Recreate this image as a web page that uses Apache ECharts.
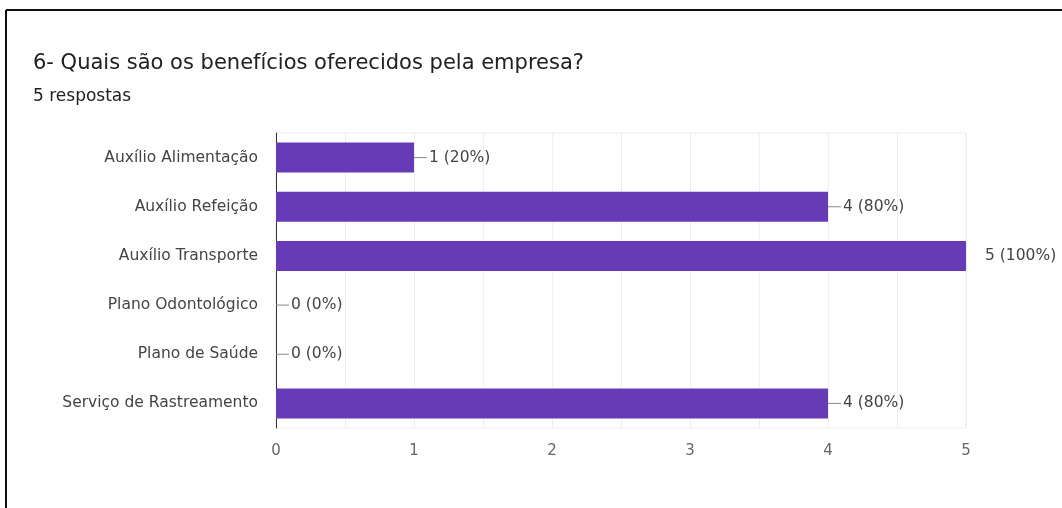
<!DOCTYPE html>
<html>
<head>
<meta charset="utf-8">
<script src="https://cdn.jsdelivr.net/npm/echarts@6/dist/echarts.min.js"></script>
<style>
  html, body { margin: 0; padding: 0; background: #fff; }
  #chart { width: 1062px; height: 508px; }
</style>
</head>
<body>
<div id="chart"></div>
<script>
// Benefit categories and number of responses for each
const categories = [
  'Auxílio Alimentação',
  'Auxílio Refeição',
  'Auxílio Transporte',
  'Plano Odontológico',
  'Plano de Saúde',
  'Serviço de Rastreamento'
];
const counts = [1, 4, 5, 0, 0, 4];
const totalResponses = 5;
const xTicks = [0, 1, 2, 3, 4, 5];

const titleText = '6- Quais são os benefícios oferecidos pela empresa?';
const subtitleText = totalResponses + ' respostas';

const textFont = '"DejaVu Sans", Arial, sans-serif';
const xMax = xTicks[xTicks.length - 1];

const barData = counts.map(function (v) {
  const pct = Math.round(v / totalResponses * 100);
  const item = { value: v };
  if (v === xMax) {
    // the full-length bar gets its label set off without a leader line
    item.label = {
      distance: 19,
      formatter: v + ' (' + pct + '%)'
    };
  } else {
    item.label = {
      formatter: '{lead|}{txt|' + v + ' (' + pct + '%)}'
    };
  }
  return item;
});

const chart = echarts.init(document.getElementById('chart'), null, { renderer: 'canvas' });

chart.setOption({
  animation: false,
  backgroundColor: '#ffffff',
  title: [
    {
      text: titleText,
      left: 33,
      top: 53,
      padding: 0,
      textStyle: {
        fontFamily: textFont,
        fontSize: 21,
        fontWeight: 'normal',
        color: '#202124'
      }
    },
    {
      text: subtitleText,
      left: 33,
      top: 88,
      padding: 0,
      textStyle: {
        fontFamily: textFont,
        fontSize: 17,
        fontWeight: 'normal',
        color: '#202124'
      }
    }
  ],
  graphic: [
    // frame edges along the top and left
    {
      type: 'line',
      shape: { x1: 6, y1: 10, x2: 1062, y2: 10 },
      style: { stroke: '#111', lineWidth: 2 }
    },
    {
      type: 'line',
      shape: { x1: 6, y1: 10, x2: 6, y2: 508 },
      style: { stroke: '#111', lineWidth: 2 }
    }
  ],
  grid: {
    left: 276,
    right: 96,
    top: 133,
    bottom: 80,
    show: true,
    borderColor: '#ececec',
    borderWidth: 1
  },
  xAxis: {
    type: 'value',
    min: 0,
    max: xMax,
    interval: 0.5,
    axisLine: { show: false },
    axisTick: { show: false },
    splitLine: { show: true, lineStyle: { color: '#efefef', width: 1 } },
    axisLabel: {
      margin: 16,
      fontFamily: textFont,
      fontSize: 15,
      color: '#666',
      formatter: function (v) {
        return xTicks.indexOf(v) >= 0 ? String(v) : '';
      }
    }
  },
  yAxis: {
    type: 'category',
    data: categories,
    inverse: true,
    axisLine: { show: true, lineStyle: { color: '#333', width: 1 } },
    axisTick: { show: false },
    splitLine: { show: false },
    axisLabel: {
      margin: 18,
      fontFamily: textFont,
      fontSize: 15.5,
      color: '#444'
    }
  },
  series: [
    {
      type: 'bar',
      data: barData,
      barWidth: 30,
      itemStyle: { color: '#673ab7' },
      label: {
        show: true,
        position: 'right',
        distance: 0,
        fontFamily: textFont,
        fontSize: 15.5,
        color: '#444',
        rich: {
          lead: {
            width: 13,
            height: 1,
            backgroundColor: '#888',
            padding: 0
          },
          txt: {
            fontFamily: textFont,
            fontSize: 15.5,
            color: '#444',
            padding: [0, 0, 0, 2]
          }
        }
      }
    }
  ]
});
</script>
</body>
</html>
